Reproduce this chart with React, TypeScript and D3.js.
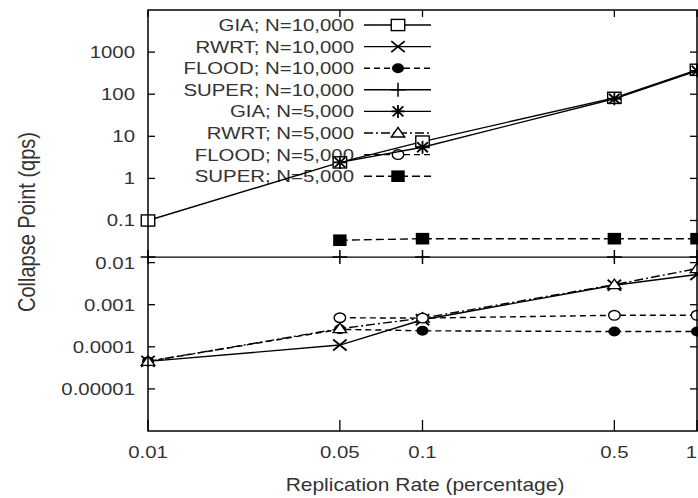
import React from "react";
import * as d3 from "d3";

const rates = [0.01, 0.05, 0.1, 0.5, 1];

const giaN10k = [0.1, 2.4, 7.5, 82, 380];
const rwrtN10k = [4.5e-5, 1.1e-4, 4.4e-4, 2.9e-3, 5.2e-3];
const floodN10k = [4.5e-5, 2.6e-4, 2.4e-4, 2.3e-4, 2.3e-4];
const superN10k = [0.0135, 0.0135, 0.0135, 0.0135, 0.0135];
const giaN5k = [null, 2.4, 5.5, 78, 360];
const rwrtN5k = [4.5e-5, 2.7e-4, 4.8e-4, 3.0e-3, 7.2e-3];
const floodN5k = [null, 4.9e-4, 4.8e-4, 5.6e-4, 5.6e-4];
const superN5k = [null, 0.034, 0.037, 0.037, 0.037];

const xTicks = [0.01, 0.05, 0.1, 0.5, 1];
const xTickLabels = ["0.01", "0.05", "0.1", "0.5", "1"];
const yTicks = [1000, 100, 10, 1, 0.1, 0.01, 0.001, 0.0001, 0.00001];
const yTickLabels = ["1000", "100", "10", "1", "0.1", "0.01", "0.001", "0.0001", "0.00001"];

type Marker = "square" | "x" | "dot" | "plus" | "star" | "triangle" | "circle" | "fsquare";

const series: { name: string; values: (number | null)[]; dash: string | null; marker: Marker }[] = [
  { name: "GIA; N=10,000", values: giaN10k, dash: null, marker: "square" },
  { name: "RWRT; N=10,000", values: rwrtN10k, dash: null, marker: "x" },
  { name: "FLOOD; N=10,000", values: floodN10k, dash: "6,4", marker: "dot" },
  { name: "SUPER; N=10,000", values: superN10k, dash: null, marker: "plus" },
  { name: "GIA; N=5,000", values: giaN5k, dash: null, marker: "star" },
  { name: "RWRT; N=5,000", values: rwrtN5k, dash: "9,3,2,3", marker: "triangle" },
  { name: "FLOOD; N=5,000", values: floodN5k, dash: "6,4", marker: "circle" },
  { name: "SUPER; N=5,000", values: superN5k, dash: "8,4", marker: "fsquare" },
];

const W = 698;
const H = 498;
const SX = 1.2; // horizontal stretch of the original picture
const font = "'Liberation Sans', Arial, sans-serif";
const textColor = "#333";

const x = d3.scaleLog().domain([0.01, 1]).range([148, 697]);
const y = d3.scaleLog().domain([1e-6, 1e4]).range([431, 10]);

function Mark({ type, cx, cy }: { type: Marker; cx: number; cy: number }) {
  const sw = 1.4;
  const hw = 5.6 * SX;
  switch (type) {
    case "square":
      return <rect x={cx - hw} y={cy - 5.6} width={hw * 2} height={11.2} fill="white" stroke="black" strokeWidth={sw} />;
    case "fsquare":
      return <rect x={cx - hw} y={cy - 5.8} width={hw * 2} height={11.6} fill="black" />;
    case "x":
      return (
        <path d={`M${cx - hw},${cy - 5.5}L${cx + hw},${cy + 5.5}M${cx - hw},${cy + 5.5}L${cx + hw},${cy - 5.5}`} stroke="black" strokeWidth={1.8} />
      );
    case "plus":
      return <path d={`M${cx - hw * 1.1},${cy}L${cx + hw * 1.1},${cy}M${cx},${cy - 7}L${cx},${cy + 7}`} stroke="black" strokeWidth={1.5} />;
    case "star":
      return (
        <path
          d={`M${cx - hw},${cy}L${cx + hw},${cy}M${cx},${cy - 6.5}L${cx},${cy + 6.5}M${cx - hw * 0.8},${cy - 5}L${cx + hw * 0.8},${cy + 5}M${cx - hw * 0.8},${cy + 5}L${cx + hw * 0.8},${cy - 5}`}
          stroke="black"
          strokeWidth={1.8}
        />
      );
    case "dot":
      return <ellipse cx={cx} cy={cy} rx={5 * SX} ry={5} fill="black" />;
    case "circle":
      return <ellipse cx={cx} cy={cy} rx={4.8 * SX} ry={4.8} fill="white" stroke="black" strokeWidth={sw} />;
    case "triangle":
      return (
        <path d={`M${cx},${cy - 5.5}L${cx + hw},${cy + 4}L${cx - hw},${cy + 4}Z`} fill="white" stroke="black" strokeWidth={sw} />
      );
  }
}

function Txt({ x0, y0, anchor, size, children, rotate }: any) {
  return (
    <g transform={`translate(${x0},${y0}) scale(${SX},1)${rotate ? " rotate(-90)" : ""}`}>
      <text textAnchor={anchor} dy="0.35em" fontSize={size} fontFamily={font} fill={textColor}>
        {children}
      </text>
    </g>
  );
}

export default function App() {
  const line = d3
    .line<[number, number | null]>()
    .defined((d) => d[1] != null)
    .x((d) => x(d[0]))
    .y((d) => y(d[1] as number));

  const left = x.range()[0];
  const right = x.range()[1];
  const top = y.range()[1];
  const bottom = y.range()[0];

  const legendY = (i: number) => 25 + i * 21.6;

  return (
    <svg width={W} height={H} style={{ position: "absolute", left: 0, top: 0, background: "white" }}>
      <rect width={W} height={H} fill="white" />

      {/* ticks */}
      {yTicks.map((t) => (
        <g key={"yt" + t}>
          <line x1={left} x2={left + 7} y1={y(t)} y2={y(t)} stroke="black" strokeWidth={1.3} />
          <line x1={right - 7} x2={right} y1={y(t)} y2={y(t)} stroke="black" strokeWidth={1.3} />
        </g>
      ))}
      {xTicks.map((t) => (
        <g key={"xt" + t}>
          <line x1={x(t)} x2={x(t)} y1={top} y2={top + 7} stroke="black" strokeWidth={1.3} />
          <line x1={x(t)} x2={x(t)} y1={bottom} y2={bottom - 11} stroke="black" strokeWidth={1.3} />
        </g>
      ))}

      {/* tick labels; the last one is kept inside the page edge */}
      {yTicks.map((t, i) => (
        <Txt key={"yl" + t} x0={135} y0={y(t)} anchor="end" size={17}>
          {yTickLabels[i]}
        </Txt>
      ))}
      {xTicks.map((t, i) => {
        const last = i === xTicks.length - 1;
        return (
          <Txt key={"xl" + t} x0={last ? W - 1 : x(t)} y0={452} anchor={last ? "end" : "middle"} size={17}>
            {xTickLabels[i]}
          </Txt>
        );
      })}

      {/* axis titles */}
      <Txt x0={425} y0={485} anchor="middle" size={17.5}>
        Replication Rate (percentage)
      </Txt>
      <Txt x0={27} y0={222} anchor="middle" size={20} rotate>
        Collapse Point (qps)
      </Txt>

      {/* legend */}
      {series.map((s, i) => (
        <g key={"lg" + i}>
          <Txt x0={354} y0={legendY(i)} anchor="end" size={17}>
            {s.name}
          </Txt>
          <line x1={364} x2={431} y1={legendY(i)} y2={legendY(i)} stroke="black" strokeWidth={1.4} strokeDasharray={s.dash ?? undefined} />
          <Mark type={s.marker} cx={398} cy={legendY(i)} />
        </g>
      ))}

      {/* data */}
      {series.map((s, i) => {
        const pts = rates.map((r, j) => [r, s.values[j]] as [number, number | null]);
        return (
          <g key={"s" + i}>
            <path d={line(pts) ?? ""} fill="none" stroke="black" strokeWidth={1.4} strokeDasharray={s.dash ?? undefined} />
            {pts
              .filter((p) => p[1] != null)
              .map((p, j) => (
                <Mark key={j} type={s.marker} cx={x(p[0])} cy={y(p[1] as number)} />
              ))}
          </g>
        );
      })}

      {/* frame */}
      <rect x={left} y={top} width={right - left} height={bottom - top} fill="none" stroke="black" strokeWidth={1.5} />
    </svg>
  );
}
